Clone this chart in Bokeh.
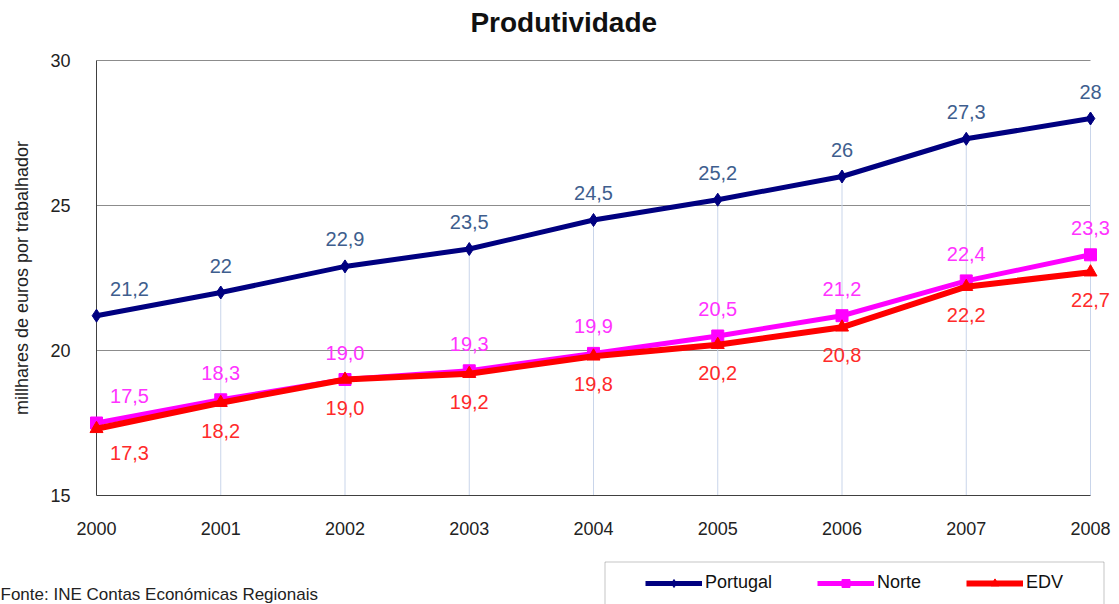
from bokeh.plotting import figure
from bokeh.layouts import column, row
from bokeh.models import (ColumnDataSource, FixedTicker, Label, Legend, LegendItem,
                          BoxAnnotation)
from bokeh.core.properties import value
from bokeh.embed import file_html
from bokeh.resources import INLINE

years = [2000, 2001, 2002, 2003, 2004, 2005, 2006, 2007, 2008]
portugal = [21.2, 22.0, 22.9, 23.5, 24.5, 25.2, 26.0, 27.3, 28.0]
norte = [17.5, 18.3, 19.0, 19.3, 19.9, 20.5, 21.2, 22.4, 23.3]
edv = [17.3, 18.2, 19.0, 19.2, 19.8, 20.2, 20.8, 22.2, 22.7]
y_ticks = [15, 20, 25, 30]
series_names = ["Portugal", "Norte", "EDV"]
title_text = "Produtividade"
y_label = "millhares de euros por trabalhador"
source_text = "Fonte: INE  Contas Económicas Regionais"

FONT = "Liberation Sans"
W, H = 1119, 604
TOP_H = 40          # title strip
MAIN_BOTTOM = 553   # page y where the bottom strip begins
MAIN_H = MAIN_BOTTOM - TOP_H
# plot area (axes box) in page pixels
AX_L, AX_R, AX_T, AX_B = 96, 1090, 60, 495
EXT_L, EXT_R, EXT_T, EXT_B = 10, 27, 2, 2   # extra frame room so marks/labels are not cut

x0, x1 = years[0], years[-1]
y0, y1 = y_ticks[0], y_ticks[-1]
ppx = (AX_R - AX_L) / (x1 - x0)
ppy = (AX_B - AX_T) / (y1 - y0)


def blank(width, height):
    f = figure(width=width, height=height, output_backend="svg", toolbar_location=None,
               x_range=(0, width), y_range=(0, height), min_border=0)
    f.axis.visible = False
    f.grid.visible = False
    f.outline_line_color = None
    f.background_fill_color = "white"
    f.border_fill_color = "white"
    return f


# ---- title strip ----
tf = blank(W, TOP_H)
tf.add_layout(Label(x=518, y=TOP_H - 22, text=title_text, text_align="center",
                    text_baseline="middle", text_font=FONT, text_font_size="28px",
                    text_font_style="bold", text_color="#111111"))

# ---- main chart ----
p = figure(width=W, height=MAIN_H, output_backend="svg", toolbar_location=None,
           x_range=(x0 - EXT_L / ppx, x1 + EXT_R / ppx),
           y_range=(y0 - EXT_B / ppy, y1 + EXT_T / ppy),
           min_border_left=AX_L - EXT_L, min_border_right=W - (AX_R + EXT_R),
           min_border_top=AX_T - EXT_T - TOP_H,
           min_border_bottom=MAIN_BOTTOM - (AX_B + EXT_B))
p.outline_line_color = None
p.background_fill_color = "white"
p.border_fill_color = "white"
p.xgrid.grid_line_color = None
p.ygrid.grid_line_color = None

p.yaxis.ticker = FixedTicker(ticks=y_ticks)
p.xaxis.ticker = FixedTicker(ticks=years)
for ax in (p.xaxis[0], p.yaxis[0]):
    ax.axis_line_color = None
    ax.major_tick_line_color = None
    ax.minor_tick_line_color = None
    ax.major_label_text_font = FONT
    ax.major_label_text_font_size = "18px"
    ax.major_label_text_color = "#222222"
p.xaxis.major_label_standoff = 18
p.yaxis.major_label_standoff = 10
p.yaxis.axis_label = y_label
p.yaxis.axis_label_text_font = FONT
p.yaxis.axis_label_text_font_style = "normal"
p.yaxis.axis_label_text_font_size = "18px"
p.yaxis.axis_label_text_color = "#222222"
p.yaxis.axis_label_standoff = 15

# horizontal gridlines, from first to last year
grid_y = y_ticks[1:]
p.segment(x0=[x0] * len(grid_y), y0=grid_y, x1=[x1] * len(grid_y), y1=grid_y,
          line_color="#8c8c8c", line_width=1)
# drop lines from the Portugal points
p.segment(x0=years[1:], y0=[y0] * (len(years) - 1), x1=years[1:], y1=portugal[1:],
          line_color="#c9d5ea", line_width=1)
# axis lines
p.segment(x0=[x0, x0], y0=[y0, y0], x1=[x0, x1], y1=[y1, y0],
          line_color="#404040", line_width=1)


def fmt_g(v):
    return ("%g" % v).replace(".", ",")


def fmt_1(v):
    return ("%.1f" % v).replace(".", ",")


series = [
    (series_names[0], portugal, "#000080", 5, "diamond", 13, "#3e5e8e", 27, fmt_g),
    (series_names[1], norte, "#ff00ff", 5, "square", 12, "#ff33ff", 27, fmt_1),
    (series_names[2], edv, "#ff0000", 6, "triangle", 13, "#ff2a2a", -28, fmt_1),
]

for name, vals, col, lw, mk, ms, lcol, dy, f in series:
    src = ColumnDataSource(dict(
        x=years, y=vals, lab=[f(v) for v in vals],
        dx=[33 if i == 0 else 0 for i in range(len(years))],
        dy=[-dy if (i > 0 or dy > 0) else -dy - 4 for i in range(len(years))],
    ))
    p.line("x", "y", source=src, line_color=col, line_width=lw, line_join="miter")
    p.scatter("x", "y", source=src, marker=mk, size=ms, fill_color=col, line_color=col)
    p.text("x", "y", text="lab", source=src, x_offset="dx", y_offset="dy",
           text_align="center", text_baseline="middle",
           text_font=value(FONT), text_font_size="20px", text_color=lcol)

# ---- bottom strip: source note and legend ----
BOT_H = H - MAIN_BOTTOM
SRC_W = 600
LEG_W = W - SRC_W

sf = blank(SRC_W, BOT_H)
sf.add_layout(Label(x=0, y=BOT_H - (594 - MAIN_BOTTOM), text=source_text,
                    text_align="left", text_baseline="middle", text_font=FONT,
                    text_font_size="17px", text_color="#222222"))

lf = blank(LEG_W, BOT_H)
lf.add_layout(BoxAnnotation(left=604 - SRC_W + 0.5, right=1103 - SRC_W + 0.5,
                            top=BOT_H - (561 - MAIN_BOTTOM) - 0.5, bottom=-20,
                            fill_color="white", fill_alpha=1.0,
                            line_color="#404040", line_width=1))
items = []
for name, vals, col, lw, mk, ms, lcol, dy, f in series:
    # legend-only renderers, placed outside the visible range
    s = ColumnDataSource(dict(x=[-1000, -999], y=[-1000, -1000]))
    r1 = lf.line("x", "y", source=s, line_color=col, line_width=lw)
    r2 = lf.scatter("x", "y", source=s, marker=mk, size=ms - 2, fill_color=col, line_color=col)
    items.append(LegendItem(label=name, renderers=[r1, r2]))
PAD = 12
leg_top = 583 - 10 - PAD - MAIN_BOTTOM
leg_h = 2 * PAD + 20
legend = Legend(items=items, orientation="horizontal",
                location=(645 - SRC_W - PAD, BOT_H - (leg_top + leg_h)),
                padding=PAD, spacing=45, glyph_width=57, glyph_height=20, label_standoff=3,
                label_text_font=FONT, label_text_font_size="18px", label_text_color="#111111",
                border_line_alpha=0, background_fill_alpha=0, margin=0)
lf.add_layout(legend, "center")

layout = column(tf, p, row(sf, lf, spacing=0), spacing=0)
open("out.html", "w").write(file_html(layout, INLINE))
